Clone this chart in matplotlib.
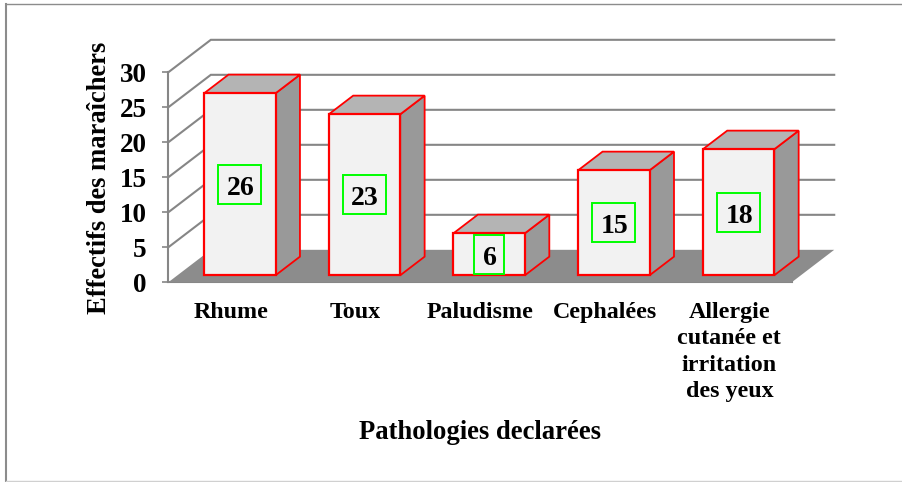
import matplotlib.pyplot as plt
from matplotlib.patches import Polygon, Rectangle
from matplotlib.lines import Line2D

plt.rcParams['font.family'] = ['Liberation Serif', 'DejaVu Serif']
plt.rcParams['font.weight'] = 'bold'

categories = ['Rhume', 'Toux', 'Paludisme', 'Cephalées',
              'Allergie\ncutanée et\nirritation\ndes yeux']
effectifs = [26, 23, 6, 15, 18]
y_ticks = [0, 5, 10, 15, 20, 25, 30]

W, H = 902, 482
# front plane of the 3d box, in pixels
left, right, bottom, top = 168.3, 791.7, 282.3, 72.3

# depth offsets, in data units
depth_x = 0.341
depth_y = 4.64
bar_width = 0.573
z_front = 0.215
z_back = 0.79

RED = '#ff0000'
GRID = '#868686'


def proj(x, y, z):
    return (x + z * depth_x, y + z * depth_y)


fig = plt.figure(figsize=(W / 100, H / 100), dpi=100)
ax = fig.add_axes([left / W, 1 - bottom / H, (right - left) / W, (bottom - top) / H])
ax.set_xlim(0, len(categories))
ax.set_ylim(0, y_ticks[-1])
ax.patch.set_visible(False)

# outer frame of the picture
fig.add_artist(Line2D([6 / W, 6 / W], [0, 1 - 4 / H], color='#8c8c8c', lw=1.5))
fig.add_artist(Line2D([6 / W, 1], [1 - 4.3 / H, 1 - 4.3 / H], color='#8c8c8c', lw=1.0))
fig.add_artist(Line2D([6 / W, 1], [1 - 481.3 / H, 1 - 481.3 / H], color='#d0d0d0', lw=1.0))

# walls
n = len(categories)
for v in y_ticks[1:]:
    p0 = proj(0, v, 0)
    p1 = proj(0, v, 1)
    p2 = proj(n, v, 1)
    ax.plot([p0[0], p1[0], p2[0]], [p0[1], p1[1], p2[1]], color=GRID, lw=1.5,
            clip_on=False, zorder=1, solid_joinstyle='miter')

# floor
floor = [proj(0, 0, 0), proj(n, 0, 0), proj(n, 0, 1), proj(0, 0, 1)]
ax.add_patch(Polygon(floor, closed=True, fc='#8c8c8c', ec='none', clip_on=False, zorder=2))

# bars
for i, v in enumerate(effectifs):
    x0 = i + 0.5 - bar_width / 2
    x1 = i + 0.5 + bar_width / 2
    side = [proj(x1, 0, z_front), proj(x1, 0, z_back), proj(x1, v, z_back), proj(x1, v, z_front)]
    roof = [proj(x0, v, z_front), proj(x1, v, z_front), proj(x1, v, z_back), proj(x0, v, z_back)]
    face = [proj(x0, 0, z_front), proj(x1, 0, z_front), proj(x1, v, z_front), proj(x0, v, z_front)]
    ax.add_patch(Polygon(side, closed=True, fc='#999999', ec=RED, lw=1.3, clip_on=False, zorder=3))
    ax.add_patch(Polygon(roof, closed=True, fc='#b4b4b4', ec=RED, lw=1.3, clip_on=False, zorder=3))
    ax.add_patch(Polygon(face, closed=True, fc='#f2f2f2', ec=RED, lw=1.6, clip_on=False, zorder=4))
    # value label in a green box
    cx, cy = proj(i + 0.5, v / 2, z_front)
    box_w = 0.345 if v >= 10 else 0.24
    box_h = 5.6
    ax.add_patch(Rectangle((cx - box_w / 2, cy - box_h / 2), box_w, box_h, fc='none',
                           ec='#00ff00', lw=1.4, clip_on=False, zorder=5))
    ax.text(cx + 0.005, cy - 1.5, str(v), ha='center', va='baseline', fontsize=20,
            fontweight='bold', color='black', zorder=6)

for s in ['top', 'right']:
    ax.spines[s].set_visible(False)
for s in ['left', 'bottom']:
    ax.spines[s].set_color(GRID)
    ax.spines[s].set_linewidth(1.5)
    ax.spines[s].set_zorder(1)

ax.set_yticks(y_ticks)
ax.set_yticklabels([str(v) for v in y_ticks], fontsize=19.5, fontweight='bold')
ax.tick_params(axis='y', length=4.5, width=1.2, color=GRID, pad=11)
ax.set_xticks([i + 0.5 for i in range(n)])
ax.set_xticklabels(categories, fontsize=17.3, fontweight='bold', linespacing=1.34)
ax.tick_params(axis='x', length=0, pad=14)

ax.set_xlabel('Pathologies declarées', fontsize=19.2, fontweight='bold')
ax.xaxis.set_label_coords((480 - left) / (right - left), (bottom - 420) / (bottom - top))
ax.set_ylabel('Effectifs des maraîchers', fontsize=19.1, fontweight='bold')
ax.yaxis.set_label_coords((112 - left) / (right - left), (bottom - 178) / (bottom - top))

fig.savefig('out.png', dpi=100)
